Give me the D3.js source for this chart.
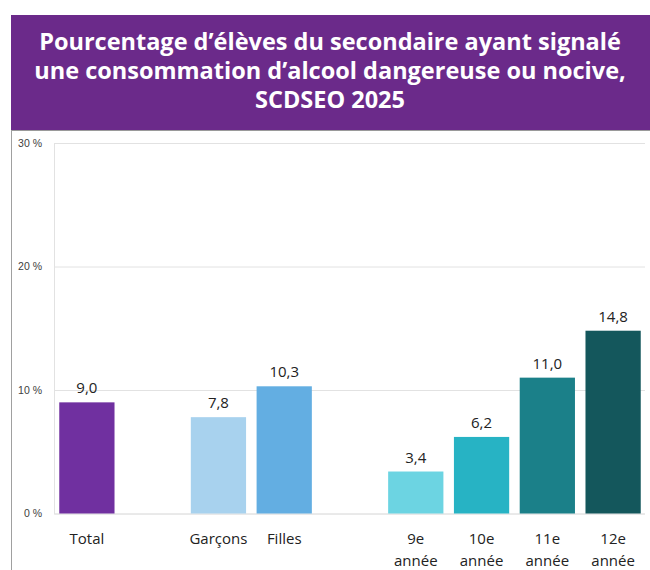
<!DOCTYPE html>
<html lang="fr">
<head>
<meta charset="utf-8">
<script src="https://cdn.jsdelivr.net/npm/d3@7"></script>
<style>
  body { margin: 0; background: #fff; }
  svg { display: block; font-family: "Open Sans", sans-serif; }
  .title { fill: #fff; font-weight: 700; font-size: 23.5px; text-anchor: middle; }
  .tick text { fill: #404040; font-size: 10.5px; }
  .value { fill: #222; font-size: 15px; text-anchor: middle; }
  .cat { fill: #222; font-size: 15px; text-anchor: middle; }
</style>
</head>
<body>
<svg width="650" height="570"></svg>
<script>
// chart data
const titleLines = [
  "Pourcentage d\u2019élèves du secondaire ayant signalé",
  "une consommation d\u2019alcool dangereuse ou nocive,",
  "SCDSEO 2025"
];
const categories = ["Total", "Garçons", "Filles", "9e année", "10e année", "11e année", "12e année"];
const groups = ["total", "sexe", "sexe", "annee", "annee", "annee", "annee"];
const values = [9.0, 7.8, 10.3, 3.4, 6.2, 11.0, 14.8];
const yTicks = [0, 10, 20, 30];

const barColors = ["#7030a0", "#a8d2ee", "#63aee2", "#6cd4e2", "#27b3c4", "#1b8089", "#14575c"];

let svg = d3.select("svg");
let w = 650, h = 570;

// banner
svg.append("rect")
  .attr("x", 11).attr("y", 15)
  .attr("width", w - 11).attr("height", 115)
  .attr("fill", "#6b2a8a");

svg.append("line")
  .attr("x1", 11).attr("x2", w)
  .attr("y1", 130.5).attr("y2", 130.5)
  .attr("stroke", "#9a9a9a");

svg.append("line")
  .attr("x1", 11.5).attr("x2", 11.5)
  .attr("y1", 130).attr("y2", h)
  .attr("stroke", "#a0a0a0");

svg.selectAll("text.title")
  .data(titleLines)
  .enter()
  .append("text")
  .attr("class", "title")
  .attr("x", 330)
  .attr("y", (d, i) => 50 + i * 29)
  .text(d => d);

// slots: blank slot between groups
let slots = [];
categories.forEach((c, i) => {
  if (i > 0 && groups[i] !== groups[i - 1]) slots.push("gap" + i);
  slots.push(c);
});

let xScale = d3.scaleBand()
  .domain(slots)
  .range([54, 646])
  .paddingInner(0.16)
  .paddingOuter(0.08);

let yScale = d3.scaleLinear()
  .domain([0, 30])
  .range([513.5, 143]);

// gridlines + y axis labels
let yAxis = d3.axisLeft(yScale)
  .tickValues(yTicks)
  .tickSize(-(645 - 54))
  .tickPadding(12)
  .tickFormat(d => d + " %");

let gy = svg.append("g")
  .attr("transform", "translate(54,0)")
  .call(yAxis);
gy.select(".domain").attr("stroke", "#e2e2e2");
gy.selectAll(".tick line").attr("stroke", "#e2e2e2");

// bars
let data = categories.map((c, i) => ({ cat: c, value: values[i], color: barColors[i] }));

svg.selectAll("rect.bar")
  .data(data)
  .enter()
  .append("rect")
  .attr("class", "bar")
  .attr("x", d => xScale(d.cat))
  .attr("y", d => yScale(d.value))
  .attr("width", xScale.bandwidth())
  .attr("height", d => yScale(0) - yScale(d.value))
  .attr("fill", d => d.color);

svg.selectAll("text.value")
  .data(data)
  .enter()
  .append("text")
  .attr("class", "value")
  .attr("x", d => xScale(d.cat) + xScale.bandwidth() / 2)
  .attr("y", d => yScale(d.value) - 9)
  .text(d => d.value.toFixed(1).replace(".", ","));

// category labels
let cats = svg.selectAll("text.cat")
  .data(data)
  .enter()
  .append("text")
  .attr("class", "cat")
  .attr("x", d => xScale(d.cat) + xScale.bandwidth() / 2)
  .attr("y", 544);

cats.selectAll("tspan")
  .data(d => d.cat.split(" ").map(t => ({ t: t, x: xScale(d.cat) + xScale.bandwidth() / 2 })))
  .enter()
  .append("tspan")
  .attr("x", d => d.x)
  .attr("dy", (d, i) => i ? 22 : 0)
  .text(d => d.t);
</script>
</body>
</html>
